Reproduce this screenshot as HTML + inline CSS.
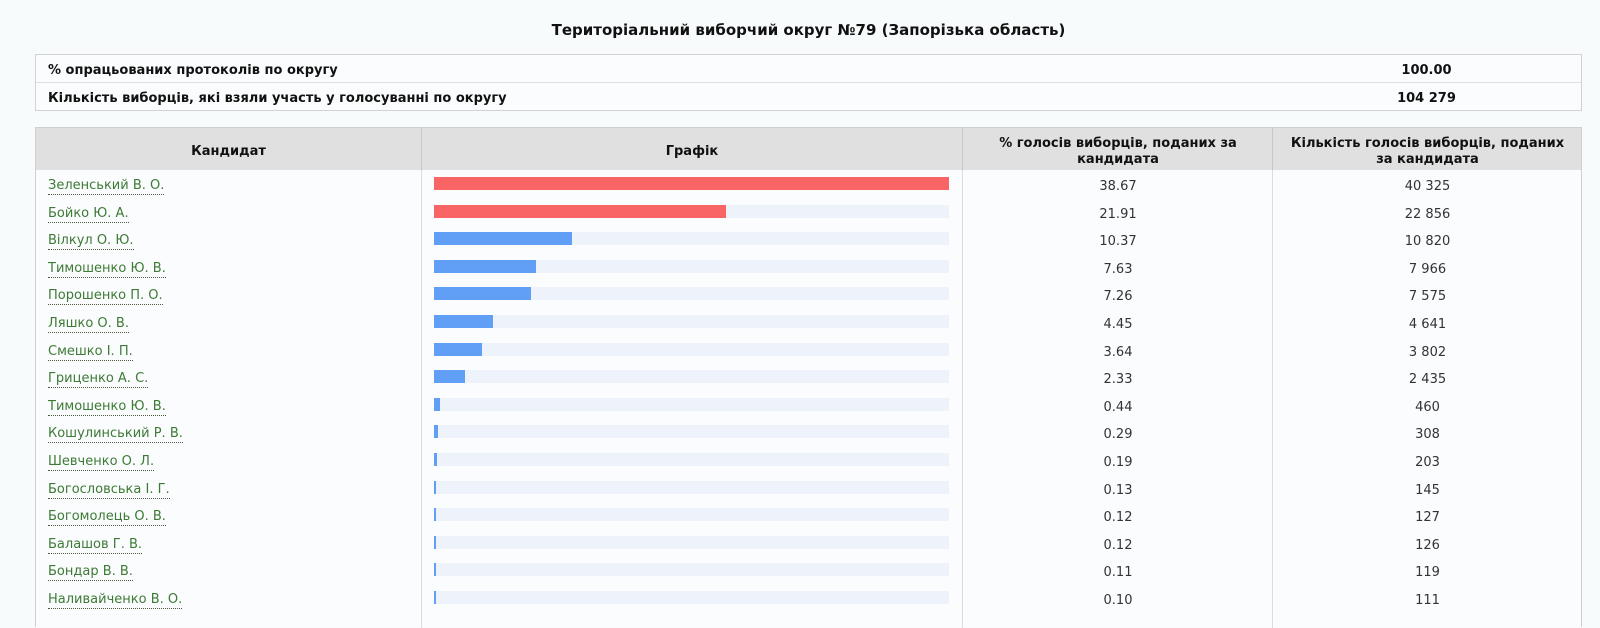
<!DOCTYPE html>
<html><head><meta charset="utf-8">
<style>
*{margin:0;padding:0;box-sizing:border-box}
html,body{width:1600px;height:609px;overflow:hidden;background:#f8fbfc;font-family:"DejaVu Sans","Liberation Sans",sans-serif;color:#111}
.abs{position:absolute}
.title{left:35px;width:1547px;top:19px;text-align:center;font-weight:bold;font-size:15px;line-height:22px;color:#111}
.info{left:35px;top:54px;width:1547px;height:57px;border:1px solid #d2d2d2;background:#fafcfd}
.info .r{position:absolute;left:0;width:1545px;height:28px;font-weight:bold;font-size:13px;line-height:28px;padding-top:2px}
.info .r .l{position:absolute;left:12px;top:2px}
.info .r .v{position:absolute;left:1236px;width:309px;text-align:center;top:2px}
.sep{position:absolute;left:0;width:1545px;height:1px;background:#e0e0e0}
.main{left:35px;top:127px;width:1547px;height:500px;border:1px solid #cfcfcf;border-bottom:none;background:#fafcfd}
.hdr{position:absolute;left:0;top:0;width:1545px;height:42px;background:#e0e0e0}
.hc{position:absolute;top:3px;height:42px;display:flex;align-items:center;justify-content:center;text-align:center;font-weight:bold;font-size:13px;line-height:16px;color:#111}
.vl{position:absolute;width:1px;top:0;height:500px;background:#dcdcdc}
.vh{position:absolute;width:1px;top:0;height:42px;background:#c8c8c8}
.row{position:absolute;left:0;width:1545px;height:27.6px;font-size:13px}
.nm{position:absolute;left:12px;top:8px;line-height:16px;color:#3d7a35;border-bottom:1px dotted #4a5a40}
.trk{position:absolute;left:398px;top:7px;width:515px;height:13px;background:#edf2fb}
.bar{position:absolute;left:0;top:0;height:13px}
.red{background:#f96464}
.blu{background:#609ff5}
.n1,.n2{position:absolute;top:3px;line-height:27.6px;text-align:center;color:#333}
.n1{left:927px;width:310px}
.n2{left:1237px;width:309px}
</style></head><body>
<div class="abs title">Територіальний виборчий округ №79 (Запорізька область)</div>

<div class="abs info">
  <div class="r" style="top:0"><span class="l">% опрацьованих протоколів по округу</span><span class="v">100.00</span></div>
  <div class="sep" style="top:27px"></div>
  <div class="r" style="top:28px"><span class="l">Кількість виборців, які взяли участь у голосуванні по округу</span><span class="v">104 279</span></div>
</div>

<div class="abs main">
  <div class="hdr"></div>
  <div class="hc" style="left:0;width:385px">Кандидат</div>
  <div class="hc" style="left:386px;width:540px">Графік</div>
  <div class="hc" style="left:927px;width:310px">% голосів виборців, поданих за<br>кандидата</div>
  <div class="hc" style="left:1237px;width:309px">Кількість голосів виборців, поданих<br>за кандидата</div>
  <div class="vl" style="left:385px"></div>
  <div class="vl" style="left:926px"></div>
  <div class="vl" style="left:1236px"></div>
  <div class="vh" style="left:385px"></div>
  <div class="vh" style="left:926px"></div>
  <div class="vh" style="left:1236px"></div>

  <div class="row" style="top:42px"><span class="nm">Зеленський В. О.</span><div class="trk"><div class="bar red" style="width:515px"></div></div><div class="n1">38.67</div><div class="n2">40 325</div></div>
  <div class="row" style="top:69.6px"><span class="nm">Бойко Ю. А.</span><div class="trk"><div class="bar red" style="width:292px"></div></div><div class="n1">21.91</div><div class="n2">22 856</div></div>
  <div class="row" style="top:97.2px"><span class="nm">Вілкул О. Ю.</span><div class="trk"><div class="bar blu" style="width:138px"></div></div><div class="n1">10.37</div><div class="n2">10 820</div></div>
  <div class="row" style="top:124.8px"><span class="nm">Тимошенко Ю. В.</span><div class="trk"><div class="bar blu" style="width:102px"></div></div><div class="n1">7.63</div><div class="n2">7 966</div></div>
  <div class="row" style="top:152.4px"><span class="nm">Порошенко П. О.</span><div class="trk"><div class="bar blu" style="width:97px"></div></div><div class="n1">7.26</div><div class="n2">7 575</div></div>
  <div class="row" style="top:180px"><span class="nm">Ляшко О. В.</span><div class="trk"><div class="bar blu" style="width:59px"></div></div><div class="n1">4.45</div><div class="n2">4 641</div></div>
  <div class="row" style="top:207.6px"><span class="nm">Смешко І. П.</span><div class="trk"><div class="bar blu" style="width:48px"></div></div><div class="n1">3.64</div><div class="n2">3 802</div></div>
  <div class="row" style="top:235.2px"><span class="nm">Гриценко А. С.</span><div class="trk"><div class="bar blu" style="width:31px"></div></div><div class="n1">2.33</div><div class="n2">2 435</div></div>
  <div class="row" style="top:262.8px"><span class="nm">Тимошенко Ю. В.</span><div class="trk"><div class="bar blu" style="width:6px"></div></div><div class="n1">0.44</div><div class="n2">460</div></div>
  <div class="row" style="top:290.4px"><span class="nm">Кошулинський Р. В.</span><div class="trk"><div class="bar blu" style="width:4px"></div></div><div class="n1">0.29</div><div class="n2">308</div></div>
  <div class="row" style="top:318px"><span class="nm">Шевченко О. Л.</span><div class="trk"><div class="bar blu" style="width:2.5px"></div></div><div class="n1">0.19</div><div class="n2">203</div></div>
  <div class="row" style="top:345.6px"><span class="nm">Богословська І. Г.</span><div class="trk"><div class="bar blu" style="width:2px"></div></div><div class="n1">0.13</div><div class="n2">145</div></div>
  <div class="row" style="top:373.2px"><span class="nm">Богомолець О. В.</span><div class="trk"><div class="bar blu" style="width:2px"></div></div><div class="n1">0.12</div><div class="n2">127</div></div>
  <div class="row" style="top:400.8px"><span class="nm">Балашов Г. В.</span><div class="trk"><div class="bar blu" style="width:2px"></div></div><div class="n1">0.12</div><div class="n2">126</div></div>
  <div class="row" style="top:428.4px"><span class="nm">Бондар В. В.</span><div class="trk"><div class="bar blu" style="width:2px"></div></div><div class="n1">0.11</div><div class="n2">119</div></div>
  <div class="row" style="top:456px"><span class="nm">Наливайченко В. О.</span><div class="trk"><div class="bar blu" style="width:2px"></div></div><div class="n1">0.10</div><div class="n2">111</div></div>
</div>
</body></html>
